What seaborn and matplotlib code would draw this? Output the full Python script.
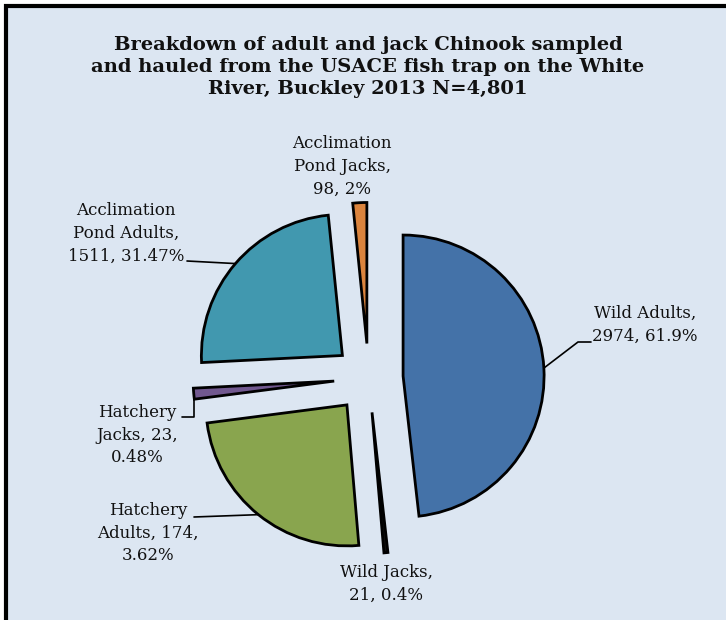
import matplotlib
matplotlib.use("Agg")
import matplotlib.pyplot as plt
import seaborn as sns
import numpy as np
from matplotlib.patches import Rectangle

# --- data ---
categories = ["Wild Adults", "Wild Jacks", "Hatchery Adults", "Hatchery Jacks",
              "Acclimation Pond Adults", "Acclimation Pond Jacks"]
counts = [2974, 21, 174, 23, 1511, 98]
percent_text = ["61.9%", "0.4%", "3.62%", "0.48%", "31.47%", "2%"]
# the slices in the original are not drawn from the counts, these are the drawn shares
slice_share = [48.2, 0.45, 24.3, 1.25, 24.2, 1.6]
label_text = [
    "Wild Adults,\n2974, 61.9%",
    "Wild Jacks,\n21, 0.4%",
    "Hatchery\nAdults, 174,\n3.62%",
    "Hatchery\nJacks, 23,\n0.48%",
    "Acclimation\nPond Adults,\n1511, 31.47%",
    "Acclimation\nPond Jacks,\n98, 2%",
]
title = ("Breakdown of adult and jack Chinook sampled\n"
         "and hauled from the USACE fish trap on the White\n"
         "River, Buckley 2013 N=4,801")

# wild jacks is so thin it shows up as a solid black sliver
colors = ["#4472A8", "#111111", "#89A54E", "#71588F", "#4198AF", "#DB843D"]
bg = "#DCE6F2"

sns.set_theme(style="white")
plt.rcParams["font.family"] = ["DejaVu Serif"]

W, H = 726, 620
CX, CY, R = 368.6, 378.0, 141.0   # pie centre / radius in pixels


def px(x, y):
    """pixel position -> data units of the pie axes"""
    return (x - CX) / R, (CY - y) / R


fig = plt.figure(figsize=(W / 100, H / 100), dpi=100, facecolor="white")
fig.patches.append(Rectangle((6 / W, -0.1), 2, (H - 6) / H + 0.1, transform=fig.transFigure,
                             facecolor=bg, edgecolor="black", linewidth=3, zorder=-5))

ax = fig.add_axes([0, 0, 1, 1])
ax.set_zorder(2)
ax.set_facecolor("none")
ax.set_axis_off()

wedges, _ = ax.pie(slice_share, colors=colors, startangle=90, counterclock=False,
                   explode=[0.245] * len(slice_share), radius=1,
                   wedgeprops=dict(edgecolor="black", linewidth=2.0))

x0, y1 = px(0, 0)
x1, y0 = px(W, H)
ax.set_xlim(x0, x1)
ax.set_ylim(y0, y1)
ax.set_aspect("auto")

# label centres in pixels
label_pos = [(645, 325), (386, 584), (148, 533), (137, 435), (126, 233), (342, 166)]
for txt, (lx, ly) in zip(label_text, label_pos):
    fig.text(lx / W, 1 - ly / H, txt, ha="center", va="center", fontsize=12,
             linespacing=1.45, color="#111111", zorder=5)


def arc_mid(w):
    mid = np.deg2rad((w.theta1 + w.theta2) / 2)
    return w.center[0] + w.r * np.cos(mid), w.center[1] + w.r * np.sin(mid)


# leader lines
mx, my = arc_mid(wedges[0])
pts = [(mx, my), px(578, 342), px(591, 342)]
ax.plot(*zip(*pts), color="black", lw=1.2)

mx, my = arc_mid(wedges[2])
pts = [(mx, my), px(194, 517)]
ax.plot(*zip(*pts), color="black", lw=1.2)

mx, my = arc_mid(wedges[3])
pts = [(mx, my), (mx, px(0, 417)[1]), px(182, 417)]
ax.plot(*zip(*pts), color="black", lw=1.2, zorder=0.5)

mx, my = arc_mid(wedges[4])
pts = [(mx, my), px(187, 261)]
ax.plot(*zip(*pts), color="black", lw=1.2)

fig.text(368 / W, 1 - 67 / H, title, ha="center", va="center", fontsize=14,
         fontweight="bold", linespacing=1.32, color="#111111", zorder=5)

fig.savefig("out.png", dpi=100, facecolor=fig.get_facecolor())
